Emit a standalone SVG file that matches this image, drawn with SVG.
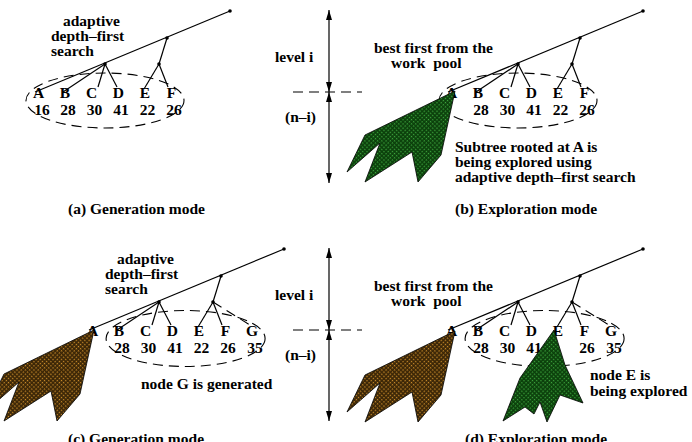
<svg xmlns="http://www.w3.org/2000/svg" width="692" height="442" viewBox="0 0 692 442">
<defs>
<style>
text{font-family:"Liberation Serif","Times New Roman",serif;font-weight:bold;font-size:15.5px;fill:#000}
.m{text-anchor:middle}
.ln{stroke:#000;stroke-width:1.2;fill:none}
.dash{stroke:#000;stroke-width:1.1;fill:none;stroke-dasharray:10 6}
.dot{fill:#000}
.green{fill:url(#pg);stroke:#000;stroke-width:0.8}
.brown{fill:url(#pb);stroke:#000;stroke-width:0.8}
</style>
<pattern id="pg" width="3" height="3" patternUnits="userSpaceOnUse" patternTransform="rotate(45)">
<rect width="3" height="3" fill="#0b3f0b"/>
<rect width="1.3" height="1.3" fill="#3fa83f"/>
</pattern>
<pattern id="pb" width="3" height="3" patternUnits="userSpaceOnUse" patternTransform="rotate(45)">
<rect width="3" height="3" fill="#3a2506"/>
<rect width="1.3" height="1.3" fill="#d0902c"/>
</pattern>
<marker id="ah" viewBox="0 0 10 6" refX="10" refY="3" markerWidth="10" markerHeight="6" markerUnits="userSpaceOnUse" orient="auto-start-reverse">
<path d="M0,0 L10,3 L0,6 Z" fill="#000"/>
</marker>
</defs>

<!-- axes -->
<g id="axis-top">
<line class="ln" x1="329" y1="51" x2="329" y2="10" marker-end="url(#ah)"/>
<line class="ln" x1="329" y1="51" x2="329" y2="92" marker-end="url(#ah)"/>
<line class="ln" x1="329" y1="138" x2="329" y2="92" marker-end="url(#ah)"/>
<line class="ln" x1="329" y1="138" x2="329" y2="183" marker-end="url(#ah)"/>
<line class="dash" x1="293" y1="92" x2="362" y2="92"/>
<text x="275" y="62">level i</text>
<text x="285" y="122">(n–i)</text>
</g>
<g id="axis-bottom">
<line class="ln" x1="329" y1="289" x2="329" y2="248" marker-end="url(#ah)"/>
<line class="ln" x1="329" y1="289" x2="329" y2="330" marker-end="url(#ah)"/>
<line class="ln" x1="329" y1="376" x2="329" y2="330" marker-end="url(#ah)"/>
<line class="ln" x1="329" y1="376" x2="329" y2="421" marker-end="url(#ah)"/>
<line class="dash" x1="293" y1="330" x2="362" y2="330"/>
<text x="275" y="300">level i</text>
<text x="285" y="360">(n–i)</text>
</g>

<!-- panel a -->
<g id="panel-a">
<g id="connectors-a">
<line class="ln" x1="230" y1="11" x2="35" y2="92"/>
<line class="ln" x1="105" y1="64" x2="63" y2="92"/>
<line class="ln" x1="105" y1="64" x2="98" y2="87"/>
<line class="ln" x1="105" y1="64" x2="117" y2="87"/>
<line class="ln" x1="167" y1="38" x2="159" y2="64"/>
<line class="ln" x1="159" y1="64" x2="144" y2="89"/>
<line class="ln" x1="159" y1="64" x2="168" y2="87"/>
<circle class="dot" cx="230" cy="11" r="1.8"/>
<circle class="dot" cx="167" cy="38" r="1.8"/>
<circle class="dot" cx="105" cy="64" r="1.8"/>
<circle class="dot" cx="159" cy="64" r="1.8"/>
</g>
<ellipse class="dash" cx="105" cy="100.5" rx="79" ry="27.5"/>
<text x="63" y="26">adaptive</text>
<text x="51" y="41">depth–first</text>
<text x="51" y="56">search</text>
<g class="m">
<text class="m" x="38.5" y="98">A</text><text class="m" x="65" y="98">B</text><text class="m" x="91.7" y="98">C</text><text class="m" x="118.3" y="98">D</text><text class="m" x="145" y="98">E</text><text class="m" x="171.5" y="98">F</text>
<text class="m" x="42" y="115">16</text><text class="m" x="68" y="115">28</text><text class="m" x="94.5" y="115">30</text><text class="m" x="121" y="115">41</text><text class="m" x="147.5" y="115">22</text><text class="m" x="174" y="115">26</text>
</g>
<text x="68" y="214">(a) Generation mode</text>
</g>

<!-- panel b -->
<g id="panel-b">
<g id="connectors-b">
<line class="ln" x1="643" y1="11" x2="448" y2="92"/>
<line class="ln" x1="518" y1="64" x2="476" y2="92"/>
<line class="ln" x1="518" y1="64" x2="511" y2="87"/>
<line class="ln" x1="518" y1="64" x2="530" y2="87"/>
<line class="ln" x1="580" y1="38" x2="572" y2="64"/>
<line class="ln" x1="572" y1="64" x2="557" y2="89"/>
<line class="ln" x1="572" y1="64" x2="581" y2="87"/>
<circle class="dot" cx="643" cy="11" r="1.8"/>
<circle class="dot" cx="580" cy="38" r="1.8"/>
<circle class="dot" cx="518" cy="64" r="1.8"/>
<circle class="dot" cx="572" cy="64" r="1.8"/>
</g>
<ellipse class="dash" cx="518" cy="100.5" rx="79" ry="27.5"/>
<text class="m" x="451.5" y="98">A</text><text class="m" x="478" y="98">B</text><text class="m" x="504.7" y="98">C</text><text class="m" x="531.3" y="98">D</text><text class="m" x="558" y="98">E</text><text class="m" x="584.5" y="98">F</text>
<text class="m" x="481" y="115">28</text><text class="m" x="507.5" y="115">30</text><text class="m" x="534" y="115">41</text><text class="m" x="560.5" y="115">22</text><text class="m" x="587" y="115">26</text>
<polygon id="subtree-a-b" class="green" points="455,91 365,135 347,172 380,143 365,182 412,152 418,182 441,155"/>
<text x="374" y="53">best first from the</text>
<text x="391" y="68" xml:space="preserve">work  pool</text>
<text x="455" y="152">Subtree rooted at A is</text>
<text x="455" y="167">being explored using</text>
<text x="455" y="182">adaptive depth–first search</text>
<text x="455" y="214">(b) Exploration mode</text>
</g>

<!-- panel c -->
<g id="panel-c">
<g id="connectors-c">
<line class="ln" x1="284" y1="249" x2="89" y2="330"/>
<line class="ln" x1="159" y1="302" x2="117" y2="330"/>
<line class="ln" x1="159" y1="302" x2="152" y2="325"/>
<line class="ln" x1="159" y1="302" x2="171" y2="325"/>
<line class="ln" x1="221" y1="276" x2="213" y2="302"/>
<line class="ln" x1="213" y1="302" x2="198" y2="327"/>
<line class="ln" x1="213" y1="302" x2="222" y2="325"/>
<line class="dash" x1="213" y1="302" x2="250" y2="325" stroke-dasharray="6 4"/>
<circle class="dot" cx="284" cy="249" r="1.8"/>
<circle class="dot" cx="221" cy="276" r="1.8"/>
<circle class="dot" cx="159" cy="302" r="1.8"/>
<circle class="dot" cx="213" cy="302" r="1.8"/>
</g>
<ellipse class="dash" cx="185.6" cy="338.5" rx="79.5" ry="28"/>
<text x="117" y="264">adaptive</text>
<text x="105" y="279">depth–first</text>
<text x="105" y="294">search</text>
<text class="m" x="92.5" y="336">A</text><text class="m" x="119" y="336">B</text><text class="m" x="145.7" y="336">C</text><text class="m" x="172.3" y="336">D</text><text class="m" x="199" y="336">E</text><text class="m" x="225.5" y="336">F</text><text class="m" x="252" y="336">G</text>
<text class="m" x="122" y="353">28</text><text class="m" x="148.5" y="353">30</text><text class="m" x="175" y="353">41</text><text class="m" x="201.5" y="353">22</text><text class="m" x="228" y="353">26</text><text class="m" x="255" y="353">35</text>
<polygon id="subtree-a-c" class="brown" points="94,330 4,374 -14,411 19,382 4,421 51,391 57,421 80,394"/>
<text x="141" y="389">node G is generated</text>
<text x="68" y="444">(c) Generation mode</text>
</g>

<!-- panel d -->
<g id="panel-d">
<g id="connectors-d">
<line class="ln" x1="643" y1="249" x2="448" y2="330"/>
<line class="ln" x1="518" y1="302" x2="476" y2="330"/>
<line class="ln" x1="518" y1="302" x2="511" y2="325"/>
<line class="ln" x1="518" y1="302" x2="530" y2="325"/>
<line class="ln" x1="580" y1="276" x2="572" y2="302"/>
<line class="ln" x1="572" y1="302" x2="557" y2="327"/>
<line class="ln" x1="572" y1="302" x2="581" y2="325"/>
<line class="dash" x1="572" y1="302" x2="609" y2="325" stroke-dasharray="6 4"/>
<circle class="dot" cx="643" cy="249" r="1.8"/>
<circle class="dot" cx="580" cy="276" r="1.8"/>
<circle class="dot" cx="518" cy="302" r="1.8"/>
<circle class="dot" cx="572" cy="302" r="1.8"/>
</g>
<ellipse class="dash" cx="544.6" cy="338.5" rx="79.5" ry="28"/>
<text class="m" x="451.5" y="336">A</text><text class="m" x="478" y="336">B</text><text class="m" x="504.7" y="336">C</text><text class="m" x="531.3" y="336">D</text><text class="m" x="558" y="336">E</text><text class="m" x="584.5" y="336">F</text><text class="m" x="611" y="336">G</text>
<text class="m" x="481" y="353">28</text><text class="m" x="507.5" y="353">30</text><text class="m" x="534" y="353">41</text><text class="m" x="587" y="353">26</text><text class="m" x="614" y="353">35</text>
<polygon id="subtree-a-d" class="brown" points="455,331 365,375 347,412 380,383 365,422 412,392 418,422 441,395"/>
<polygon id="subtree-e-d" class="green" points="554,330 520,378 503,421 525,407 534,414 540,402 547,422 560,395 583,403 565,365"/>
<text x="374" y="291">best first from the</text>
<text x="391" y="306" xml:space="preserve">work  pool</text>
<text x="590" y="380">node E is</text>
<text x="590" y="396">being explored</text>
<text x="465" y="444">(d) Exploration mode</text>
</g>
</svg>
